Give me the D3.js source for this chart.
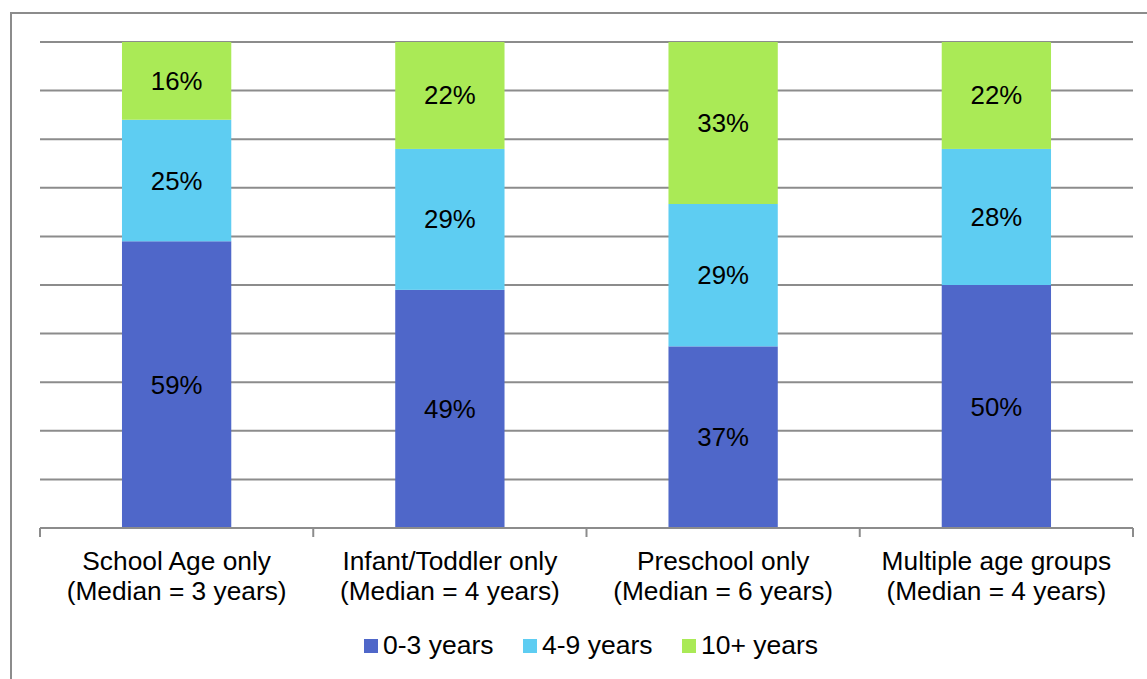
<!DOCTYPE html>
<html>
<head>
<meta charset="utf-8">
<script src="https://cdn.jsdelivr.net/npm/d3@7"></script>
<style>
  html, body { margin: 0; padding: 0; background: #fff; }
  svg { display: block; font-family: "Liberation Sans", Arial, sans-serif; }
</style>
</head>
<body>
<svg id="chart" width="1147" height="679"></svg>
<script>
// Program types and their two-line axis labels
const categories = ["School Age only", "Infant/Toddler only", "Preschool only", "Multiple age groups"];
const medianLabels = ["(Median = 3 years)", "(Median = 4 years)", "(Median = 6 years)", "(Median = 4 years)"];

// Share of staff by years of experience (percent)
const seriesNames = ["0-3 years", "4-9 years", "10+ years"];
const years0to3 = [59, 49, 37, 50];
const years4to9 = [25, 29, 29, 28];
const years10plus = [16, 22, 33, 22];

const colors = ["#4f67c9", "#5ecdf2", "#aaea56"];
const gridTicks = d3.range(0, 1.0001, 0.1);

const svg = d3.select("#chart");
const W = 1147, H = 679;
const margin = { left: 40, right: 14, top: 42, bottom: 151 };
const plotRight = W - margin.right;
const plotBottom = H - margin.bottom;

// Outer chart frame
svg.append("rect")
  .attr("x", 11).attr("y", 13)
  .attr("width", W + 10).attr("height", H + 10)
  .attr("fill", "none").attr("stroke", "#8c8c8c").attr("stroke-width", 2);

const table = categories.map((c, i) => ({
  category: c,
  "0-3 years": years0to3[i],
  "4-9 years": years4to9[i],
  "10+ years": years10plus[i]
}));

const stacked = d3.stack().keys(seriesNames).offset(d3.stackOffsetExpand)(table);

const x = d3.scaleBand().domain(categories).range([margin.left, plotRight]).padding(0);
const y = d3.scaleLinear().domain([0, 1]).range([plotBottom, margin.top]);
const barWidth = x.bandwidth() * 0.4;

// Horizontal gridlines
svg.append("g")
  .selectAll("line")
  .data(gridTicks.slice(1))
  .join("line")
  .attr("x1", margin.left).attr("x2", plotRight)
  .attr("y1", d => y(d)).attr("y2", d => y(d))
  .attr("stroke", "#8c8c8c").attr("stroke-width", 2);

// Stacked bars
const layers = svg.append("g")
  .selectAll("g")
  .data(stacked)
  .join("g")
  .attr("fill", (d, i) => colors[i]);

layers.selectAll("rect")
  .data(d => d)
  .join("rect")
  .attr("x", d => x(d.data.category) + (x.bandwidth() - barWidth) / 2)
  .attr("y", d => y(d[1]))
  .attr("width", barWidth)
  .attr("height", d => y(d[0]) - y(d[1]));

// Segment value labels
stacked.forEach((layer) => {
  svg.append("g")
    .selectAll("text")
    .data(layer)
    .join("text")
    .attr("x", d => x(d.data.category) + x.bandwidth() / 2)
    .attr("y", d => (y(d[0]) + y(d[1])) / 2)
    .attr("dy", "0.35em")
    .attr("text-anchor", "middle")
    .attr("font-size", 25.8)
    .attr("fill", "#000")
    .text(d => d.data[layer.key] + "%");
});

// Category axis with ticks between bands
const axisG = svg.append("g");
axisG.append("line")
  .attr("x1", margin.left).attr("x2", plotRight)
  .attr("y1", plotBottom).attr("y2", plotBottom)
  .attr("stroke", "#8c8c8c").attr("stroke-width", 2);

const boundaries = categories.map(c => x(c)).concat([x(categories[categories.length - 1]) + x.bandwidth()]);
axisG.selectAll("line.tick")
  .data(boundaries)
  .join("line")
  .attr("class", "tick")
  .attr("x1", d => d).attr("x2", d => d)
  .attr("y1", plotBottom).attr("y2", plotBottom + 9)
  .attr("stroke", "#8c8c8c").attr("stroke-width", 2);

const labels = axisG.selectAll("text.cat")
  .data(categories)
  .join("text")
  .attr("class", "cat")
  .attr("text-anchor", "middle")
  .attr("font-size", 26.3)
  .attr("fill", "#000");
labels.append("tspan")
  .attr("x", d => x(d) + x.bandwidth() / 2)
  .attr("y", 570)
  .text(d => d);
labels.append("tspan")
  .attr("x", d => x(d) + x.bandwidth() / 2)
  .attr("y", 600)
  .text((d, i) => medianLabels[i]);

// Legend
const legendX = [364, 523, 682];
const legend = svg.append("g")
  .selectAll("g")
  .data(seriesNames)
  .join("g")
  .attr("transform", (d, i) => `translate(${legendX[i]},639)`);
legend.append("rect")
  .attr("width", 14).attr("height", 14)
  .attr("fill", (d, i) => colors[i]);
legend.append("text")
  .attr("x", 19).attr("y", 15)
  .attr("font-size", 26.5)
  .attr("fill", "#000")
  .text(d => d);
</script>
</body>
</html>
